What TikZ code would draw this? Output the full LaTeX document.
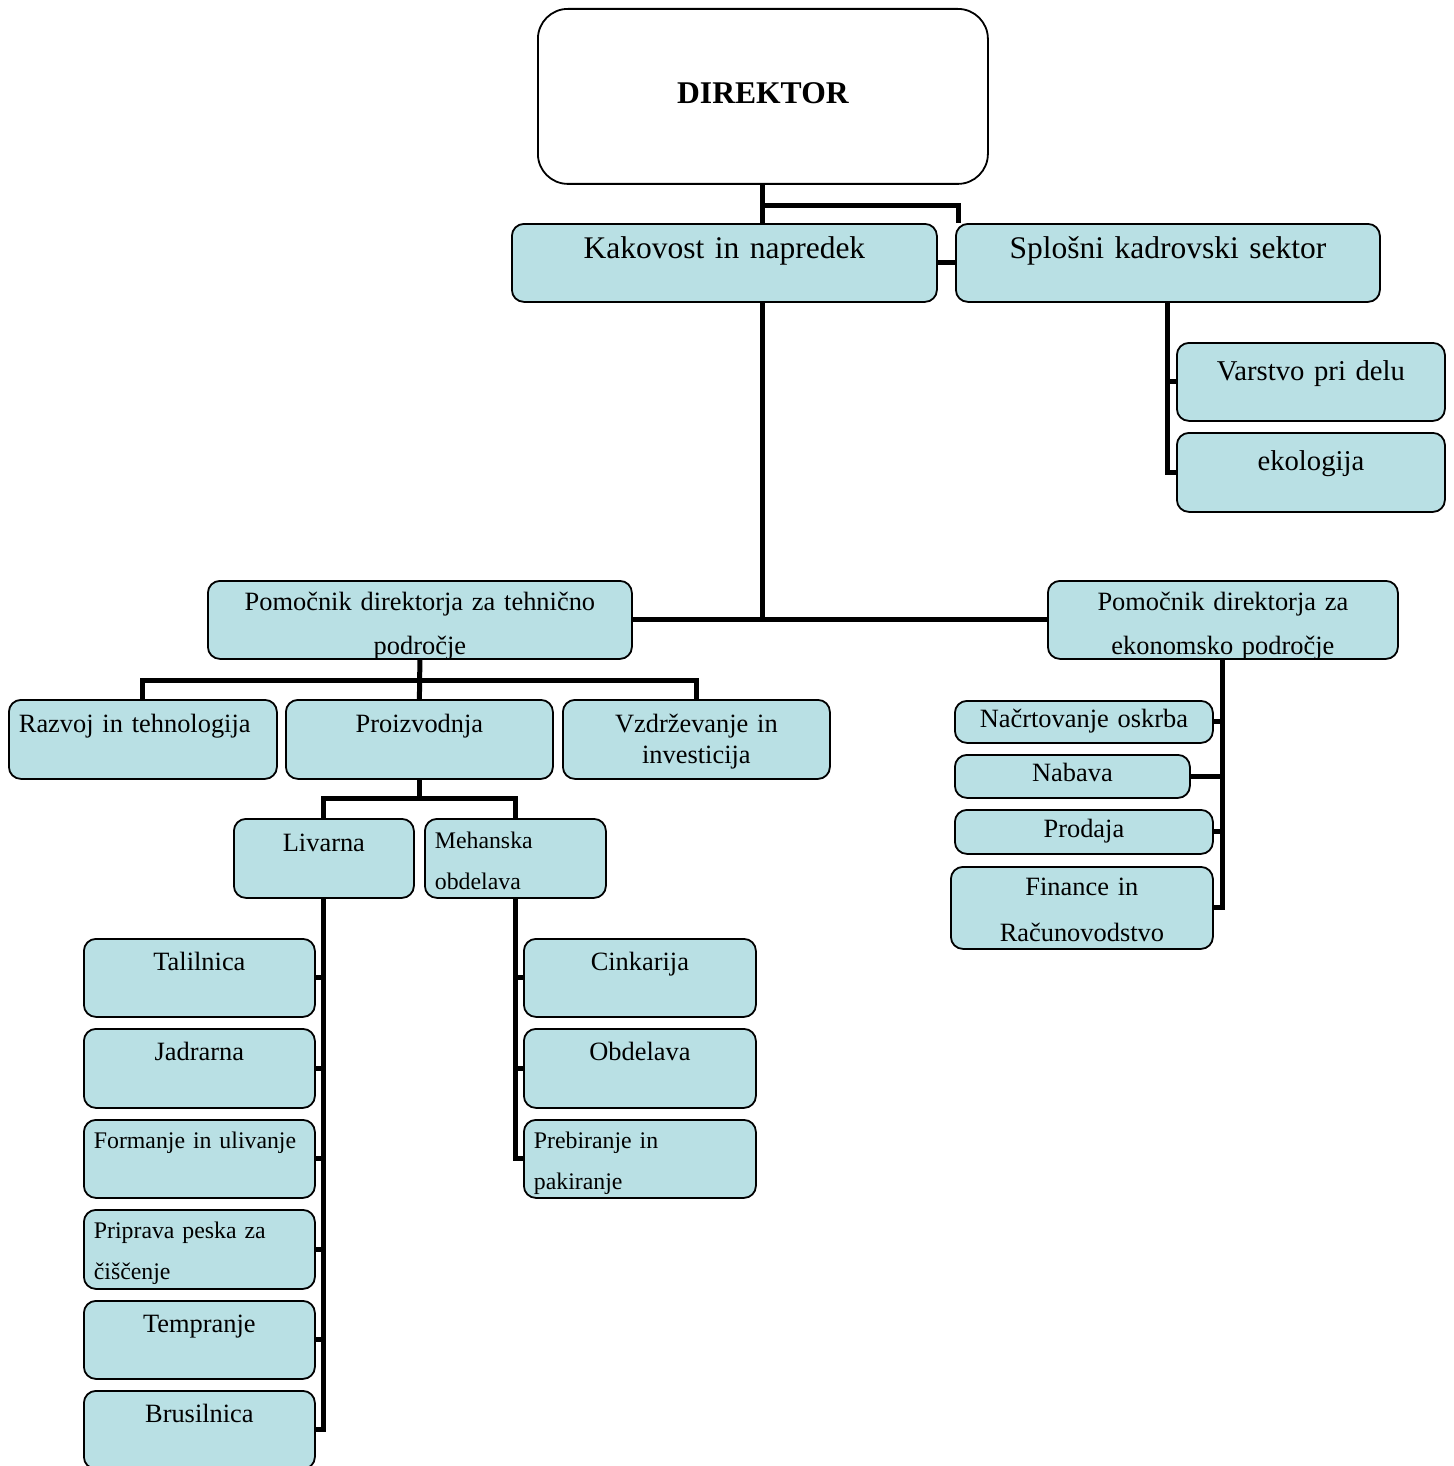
\documentclass[tikz,border=0pt]{standalone}
\usepackage{fontspec}
\setmainfont{Liberation Serif}
\usetikzlibrary{backgrounds}

\definecolor{unitblue}{RGB}{185,224,228}

\tikzset{
  orgbox/.style={draw=black, line width=1.8pt, fill=unitblue, rounded corners=12pt,
    inner xsep=10pt, inner ysep=0pt, align=center, anchor=north west},
  leftbox/.style={orgbox, align=left},
  bigtext/.style={font=\fontsize{31.5}{38}\selectfont},
  sidetext/.style={font=\fontsize{28.7}{34}\selectfont},
  midtext/.style={font=\fontsize{26.4}{31}\selectfont},
  smalltext/.style={font=\fontsize{23.8}{41}\selectfont},
  link/.style={line width=5pt},
}

\begin{document}
\begin{tikzpicture}[x=1pt, y=-1pt]

\useasboundingbox (0,0) rectangle (1453,1466);

% top
\node[orgbox, fill=white, rounded corners=30pt, text width=430pt, text height=95pt, text depth=80pt,
  font=\bfseries\fontsize{31.6}{38}\selectfont] (dir) at (537,8) {DIREKTOR};
\node[orgbox, bigtext, text width=405pt, text height=35pt, text depth=43pt] (kak) at (511,223) {Kakovost in napredek};
\node[orgbox, bigtext, text width=404pt, text height=35pt, text depth=43pt] (splos) at (955,223) {Splošni kadrovski sektor};
\node[orgbox, sidetext, text width=248pt, text height=38pt, text depth=40pt] (varst) at (1176,342) {Varstvo pri delu};
\node[orgbox, sidetext, text width=248pt, text height=38pt, text depth=41pt] (ekol) at (1176,432) {ekologija};

% assistants
\node[orgbox, font=\fontsize{26.4}{44}\selectfont, text width=404pt, text height=30pt, text depth=48pt] (tech) at (207,580) {Pomočnik direktorja za tehnično\\področje};
\node[orgbox, font=\fontsize{26.4}{44}\selectfont, text width=330pt, text height=30pt, text depth=48pt] (eco) at (1047,580) {Pomočnik direktorja za\\ekonomsko področje};

% technical side
\node[leftbox, midtext, text width=248pt, text height=33pt, text depth=46pt] (razv) at (8,699) {Razvoj in tehnologija};
\node[orgbox, midtext, text width=247pt, text height=33pt, text depth=46pt] (proiz) at (285,699) {Proizvodnja};
\node[orgbox, midtext, text width=247pt, text height=33pt, text depth=46pt] (vzdr) at (562,699) {Vzdrževanje in\\investicija};
\node[orgbox, midtext, text width=160pt, text height=33pt, text depth=46pt] (livar) at (233,818) {Livarna};
\node[leftbox, smalltext, text width=161pt, text height=30pt, text depth=49pt] (meh) at (424,818) {Mehanska\\obdelava};

% foundry
\node[orgbox, midtext, text width=211pt, text height=32pt, text depth=46pt] (talil) at (83,938) {Talilnica};
\node[orgbox, midtext, text width=211pt, text height=32pt, text depth=47pt] (jadr) at (83,1028) {Jadrarna};
\node[leftbox, smalltext, text width=211pt, text height=29pt, text depth=49pt] (form) at (83,1119) {Formanje in ulivanje};
\node[leftbox, smalltext, text width=211pt, text height=29pt, text depth=50pt] (prip) at (83,1209) {Priprava peska za\\čiščenje};
\node[orgbox, midtext, text width=211pt, text height=32pt, text depth=46pt] (tempr) at (83,1300) {Tempranje};
\node[orgbox, midtext, text width=211pt, text height=32pt, text depth=46pt] (brus) at (83,1390) {Brusilnica};

% machining
\node[orgbox, midtext, text width=212pt, text height=32pt, text depth=46pt] (cink) at (523,938) {Cinkarija};
\node[orgbox, midtext, text width=212pt, text height=32pt, text depth=47pt] (obdel) at (523,1028) {Obdelava};
\node[leftbox, smalltext, text width=212pt, text height=29pt, text depth=49pt] (prebir) at (523,1119) {Prebiranje in\\pakiranje};

% economic side
\node[orgbox, midtext, text width=238pt, text height=27pt, text depth=15pt] (nacrt) at (954,700) {Načrtovanje oskrba};
\node[orgbox, midtext, text width=215pt, text height=27pt, text depth=16pt] (nabav) at (954,754) {Nabava};
\node[orgbox, midtext, text width=238pt, text height=28pt, text depth=16pt] (prod) at (954,809) {Prodaja};
\node[orgbox, font=\fontsize{26.4}{46}\selectfont, text width=242pt, text height=29pt, text depth=53pt] (fin) at (950,866) {Finance in\\Računovodstvo};

% connectors
\begin{scope}[on background layer]
\begin{scope}[link]
\draw (dir.south) -- (dir.south |- tech.east);
\draw (dir.south) ++(0,21) -| ([xshift=3pt]splos.north west);
\draw (kak.east) -- (splos.west);
\draw (splos.south) |- (varst.west);
\draw (splos.south) |- (ekol.west);
\draw (tech.east) -- (eco.west);
\draw (tech.south) -- (proiz.north);
\draw (razv.north) -- ++(0,-19) -| (vzdr.north);
\draw (proiz.south) -- ++(0,20);
\draw (livar.north) -- ++(0,-20) -| (meh.north);
\foreach \n in {talil,jadr,form,prip,tempr,brus}
  \draw (\n.east) -| (livar.south);
\foreach \n in {cink,obdel,prebir}
  \draw (\n.west) -| (meh.south);
\foreach \n in {nacrt,nabav,prod,fin}
  \draw (\n.east) -| (eco.south);
\end{scope}
\end{scope}

\end{tikzpicture}
\end{document}
